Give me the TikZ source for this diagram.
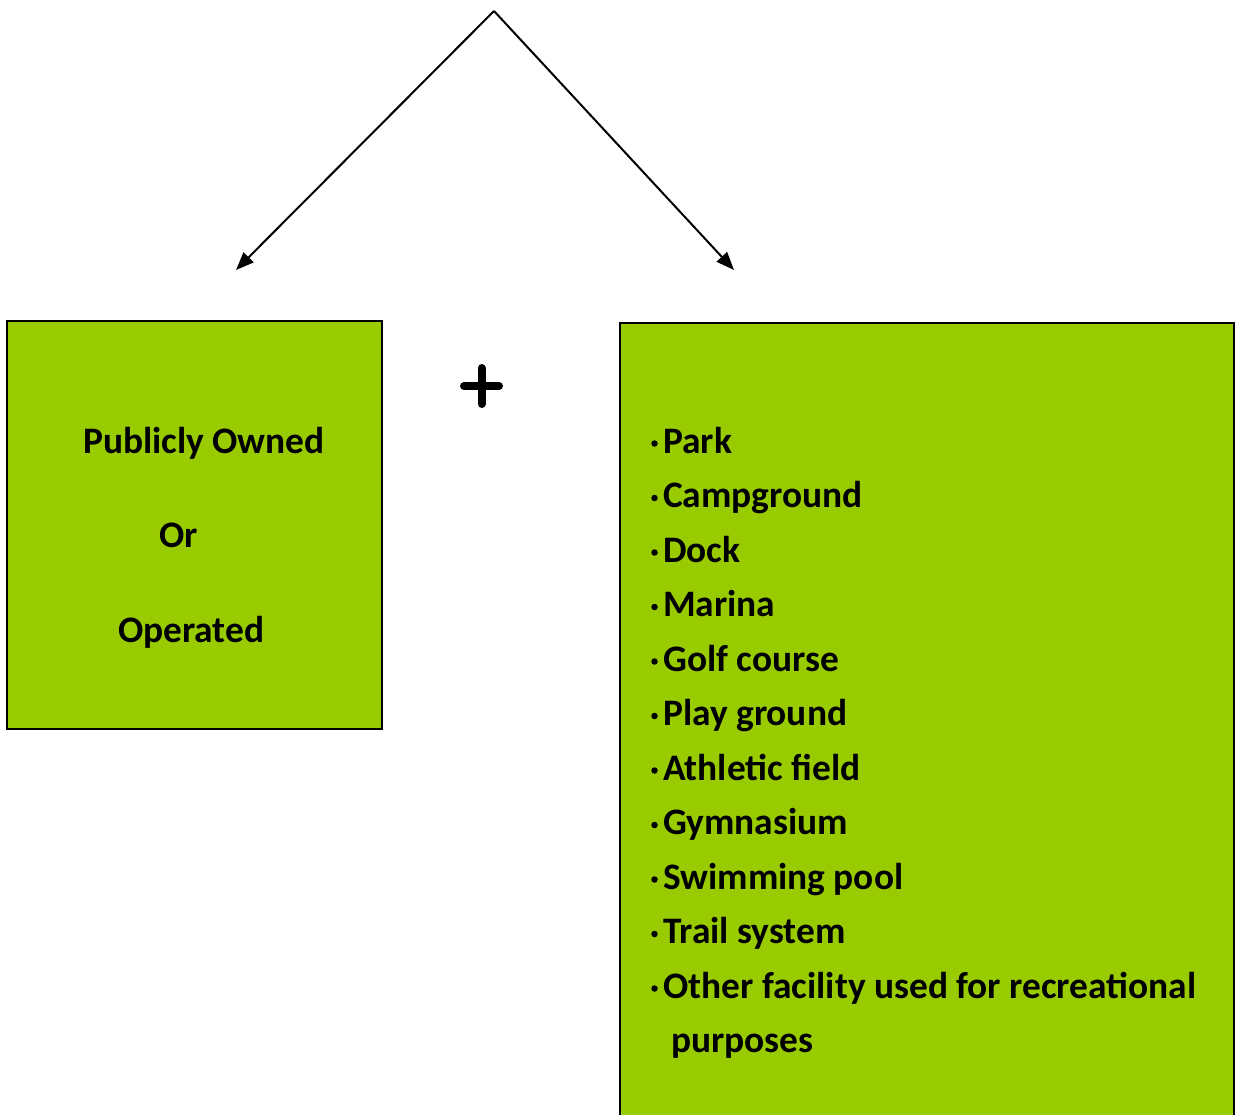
\documentclass[tikz,border=0pt]{standalone}
\usepackage{fontspec}
\setmainfont{Carlito}
\usetikzlibrary{arrows.meta}
\definecolor{boxgreen}{HTML}{99CC00}
\tikzset{
  box/.style={draw=black, line width=1.3pt, fill=boxgreen},
  arr/.style={draw=black, line width=2pt, -{Triangle[length=18pt, width=14pt]}},
  lbl/.style={anchor=base west, inner sep=0pt, font=\fontsize{37.4}{37.4}\selectfont\bfseries},
  dotb/.style={fill=black, circle, inner sep=0pt, minimum size=6.5pt},
}
\begin{document}
\begin{tikzpicture}[x=1pt,y=-1pt]
\useasboundingbox (0,0) rectangle (1241,1114);
\clip (0,0) rectangle (1241,1114);
\fill[white] (0,0) rectangle (1241,1114);
% boxes
\draw[box] (7,321) rectangle (382,729);
\node[inner sep=0pt, minimum width=375pt, minimum height=408pt] (leftbox) at (194.5,525) {};
\draw[box] (620,323) rectangle (1234,1120);
\node[inner sep=0pt, minimum width=614pt, minimum height=797pt] (rightbox) at (927,721.5) {};
% arrows
\coordinate (top) at (494,11);
\coordinate (lt) at (236,270);
\coordinate (rt) at (734,270);
\draw[arr] (top) -- (lt);
\draw[arr] (top) -- (rt);
% plus
\draw[line width=8pt, line cap=round] (464,386) -- (499,386);
\draw[line width=8pt, line cap=round] (481.5,368) -- (481.5,404);
% left text
\node[lbl] (t1) at (83,453) {Publicly Owned};
\node[lbl] (t2) at (159,547) {Or};
\node[lbl] (t3) at (118,642) {Operated};
% right list
\foreach \i/\txt in {0/Park,1/Campground,2/Dock,3/Marina,4/Golf course,5/Play ground,6/Athletic field,7/Gymnasium,8/Swimming pool,9/Trail system,10/Other facility used for recreational}{
  \node[lbl] (item\i) at (663,453+54.5*\i) {\txt};
  \node[dotb] (bul\i) at (654.5,443.5+54.5*\i) {};
}
\node[lbl] (item11) at (671,1052.5) {purposes};
\end{tikzpicture}
\end{document}
